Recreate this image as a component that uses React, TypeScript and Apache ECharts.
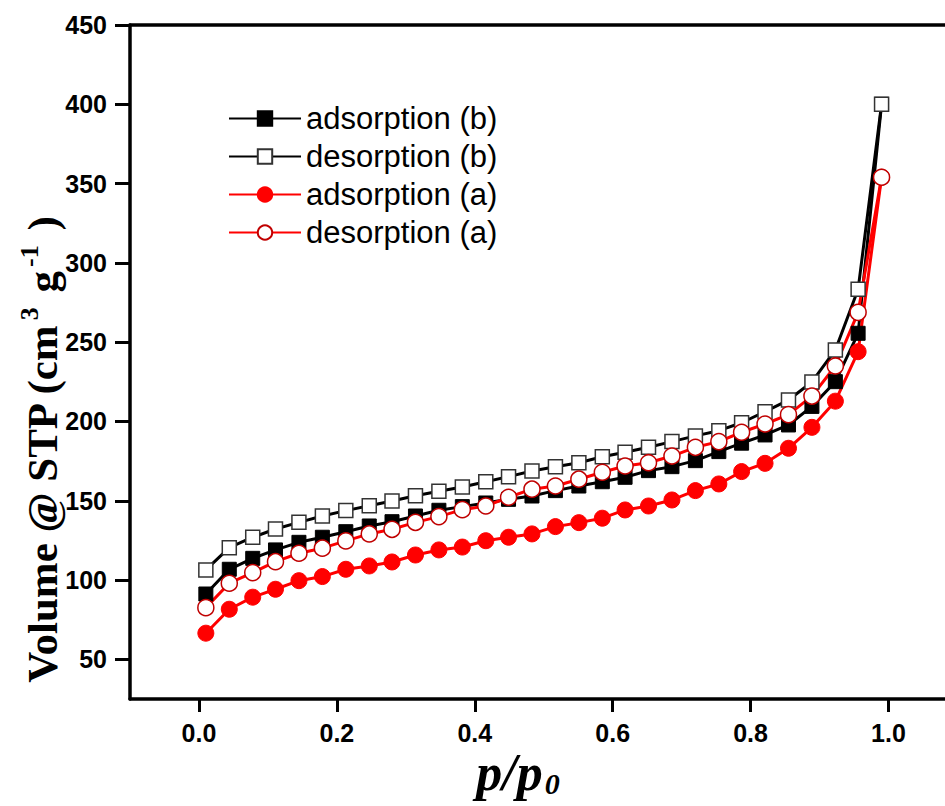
import React, { useEffect, useRef } from "react";
import * as echarts from "echarts";

const pressure = [0.010, 0.044, 0.078, 0.111, 0.145, 0.179, 0.213, 0.247, 0.280, 0.314, 0.348, 0.382, 0.416, 0.449, 0.483, 0.517, 0.551, 0.585, 0.618, 0.652, 0.686, 0.720, 0.754, 0.787, 0.821, 0.855, 0.889, 0.923, 0.956, 0.990];
const adsorptionB = [91.2, 106.8, 113.7, 119.0, 123.8, 127.0, 130.5, 134.1, 136.8, 140.4, 144.0, 146.3, 148.6, 150.9, 153.0, 156.4, 159.3, 162.0, 164.8, 169.0, 171.5, 175.3, 181.0, 186.3, 191.5, 197.8, 209.5, 225.1, 255.6, 400];
const desorptionB = [106.4, 120.4, 127.0, 132.2, 136.4, 140.4, 143.8, 146.9, 149.9, 153.2, 156.0, 158.7, 162.0, 165.2, 168.8, 171.5, 174.0, 177.8, 180.6, 183.7, 187.3, 190.9, 194.2, 199.2, 206.2, 213.5, 224.9, 245.1, 283.4, 400];
const adsorptionA = [66.5, 81.6, 89.2, 94.2, 99.6, 102.2, 106.8, 108.9, 111.4, 115.8, 119.0, 120.8, 124.8, 127.0, 129.1, 133.7, 136.2, 139.0, 144.2, 146.7, 150.5, 156.4, 160.6, 168.4, 173.6, 183.1, 196.3, 212.8, 244.0, 354.0];
const desorptionA = [82.6, 98.0, 104.7, 111.6, 116.9, 120.1, 124.7, 129.1, 132.0, 136.4, 140.0, 144.4, 146.7, 152.2, 157.3, 159.3, 163.6, 168.0, 171.9, 174.0, 178.2, 183.7, 187.3, 193.2, 198.4, 204.3, 216.0, 235.0, 268.8, 354.0];

const xTicks = [0, 0.2, 0.4, 0.6, 0.8, 1.0];
const yTicks = [50, 100, 150, 200, 250, 300, 350, 400, 450];
const seriesNames = ["adsorption (b)", "desorption (b)", "adsorption (a)", "desorption (a)"];

const RED = "#ff0000";
const BLACK = "#000000";
const tickFont = "'Liberation Sans Narrow', 'Liberation Sans', Arial, sans-serif";
const serif = "'Liberation Serif', 'Times New Roman', serif";

function pairs(ys: number[]) {
  return pressure.map((x, i) => [x, ys[i]]);
}

export default function App() {
  const ref = useRef<HTMLDivElement>(null);
  useEffect(() => {
    document.body.style.margin = "0";
    const chart = echarts.init(ref.current!, null, { renderer: "svg" });
    const axisLine = { show: true, onZero: false, lineStyle: { color: BLACK, width: 3.5 } };
    const labelStyle = { color: BLACK, fontSize: 25, fontWeight: "bold" as const, fontFamily: tickFont };
    chart.setOption({
      animation: false,
      backgroundColor: "#ffffff",
      grid: { left: 130, top: 25, right: 0, bottom: 107, containLabel: false },
      xAxis: [
        {
          type: "value",
          min: -0.1,
          max: 1.082,
          axisLine,
          splitLine: { show: false },
          axisTick: { show: true, length: 13, lineStyle: { color: BLACK, width: 3 }, customValues: xTicks },
          axisLabel: { ...labelStyle, margin: 21, customValues: xTicks, formatter: (v: number) => v.toFixed(1) },
        },
        {
          type: "value",
          position: "top",
          min: -0.1,
          max: 1.082,
          axisLine,
          splitLine: { show: false },
          axisTick: { show: false },
          axisLabel: { show: false },
        },
      ],
      yAxis: {
        type: "value",
        min: 25,
        max: 450,
        axisLine,
        splitLine: { show: false },
        axisTick: { show: true, length: 15, lineStyle: { color: BLACK, width: 3 }, customValues: yTicks },
        axisLabel: { ...labelStyle, margin: 23, customValues: yTicks },
      },
      legend: {
        data: seriesNames,
        orient: "vertical",
        left: 223,
        top: 98,
        itemWidth: 72,
        itemHeight: 18,
        itemGap: 7,
        textStyle: { fontSize: 31, lineHeight: 30, color: BLACK, fontFamily: "'Liberation Sans', Arial, sans-serif" },
      },
      series: [
        {
          name: seriesNames[0],
          type: "line",
          data: pairs(adsorptionB),
          symbol: "rect",
          symbolSize: 14,
          lineStyle: { color: BLACK, width: 3 },
          itemStyle: { color: BLACK, borderColor: BLACK, borderWidth: 1 },
        },
        {
          name: seriesNames[1],
          type: "line",
          data: pairs(desorptionB),
          symbol: "rect",
          symbolSize: 14,
          lineStyle: { color: BLACK, width: 3 },
          itemStyle: { color: "#ffffff", borderColor: "#333333", borderWidth: 1.5 },
        },
        {
          name: seriesNames[2],
          type: "line",
          data: pairs(adsorptionA),
          symbol: "circle",
          symbolSize: 16,
          lineStyle: { color: RED, width: 3 },
          itemStyle: { color: RED, borderColor: RED, borderWidth: 1 },
        },
        {
          name: seriesNames[3],
          type: "line",
          data: pairs(desorptionA),
          symbol: "circle",
          symbolSize: 16,
          lineStyle: { color: RED, width: 3 },
          itemStyle: { color: "#ffffff", borderColor: "#c00000", borderWidth: 1.5 },
        },
      ],
      graphic: [
        {
          type: "text",
          x: 40,
          y: 450,
          rotation: Math.PI / 2,
          style: {
            text: "{m|Volume @ STP (cm}{s|3}{m| g}{s|-1}{m| )}",
            align: "center",
            verticalAlign: "middle",
            fill: BLACK,
            rich: {
              m: { fontSize: 43, fontWeight: "bold", fontFamily: serif, fill: BLACK, lineHeight: 48, padding: [16, 0, 0, 0], verticalAlign: "bottom" },
              s: { fontSize: 26, fontWeight: "bold", fontFamily: serif, fill: BLACK, lineHeight: 26, verticalAlign: "top", padding: [0, 4, 0, 4] },
            },
          },
        },
        {
          type: "text",
          x: 518,
          y: 772,
          style: {
            text: "{a|p/p}{b|0}",
            align: "center",
            verticalAlign: "middle",
            fill: BLACK,
            rich: {
              a: { fontSize: 52, fontWeight: "bold", fontStyle: "italic", fontFamily: serif, fill: BLACK, lineHeight: 52, verticalAlign: "top" },
              b: { fontSize: 30, fontWeight: "bold", fontStyle: "italic", fontFamily: serif, fill: BLACK, lineHeight: 30, verticalAlign: "bottom", padding: [18, 0, 0, 2] },
            },
          },
        },
      ],
    });
    return () => chart.dispose();
  }, []);
  return <div ref={ref} style={{ position: "absolute", left: 0, top: 0, width: 945, height: 806 }} />;
}
